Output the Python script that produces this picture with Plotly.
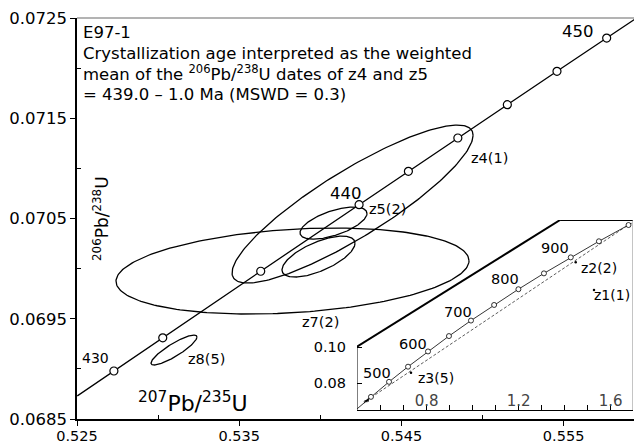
import numpy as np
import plotly.graph_objects as go

# ---------------- data ----------------
# concordia (main panel): ages with markers and their ratios
conc_age = [430, 432, 436, 440, 442, 444, 446, 448, 450]
conc_x = [0.527275, 0.530287, 0.536327, 0.542391, 0.545432, 0.548480, 0.551531, 0.554592, 0.557656]
conc_y = [0.068979, 0.069310, 0.069974, 0.070638, 0.070971, 0.071303, 0.071635, 0.071968, 0.072300]
conc_start = (0.525020, 0.068730)
conc_end = (0.559652, 0.072517)
conc_labels = ["430", "440", "450"]

# error ellipses: centre, half-extent in x and y, correlation
ell_labels = ["z4(1)", "z5(2)", "", "z7(2)", "z8(5)"]
ell_cx = [0.54199, 0.540814, 0.539889, 0.538286, 0.53098]
ell_cy = [0.070644, 0.070454, 0.07012, 0.069976, 0.069188]
ell_ax = [0.00743, 0.002065, 0.00225, 0.010882, 0.001418]
ell_ay = [0.000788, 0.00016, 0.000204, 0.000429, 0.0001496]
ell_rho = [0.87, 0.6, 0.65, 0.24, 0.87]

# inset concordia
ins_age = [450, 500, 550, 600, 650, 700, 750, 800, 850, 900, 950, 1000]
ins_x = [0.557656, 0.636280, 0.718871, 0.805631, 0.896780, 0.992510, 1.093082, 1.198730,
         1.309713, 1.426294, 1.548765, 1.677410]
ins_y = [0.072300, 0.080650, 0.089064, 0.097544, 0.106090, 0.114703, 0.123382, 0.132129,
         0.140944, 0.149828, 0.158781, 0.167804]
ins_start = (0.497487, 0.065668)
ins_end = (1.690626, 0.168710)
ins_age_labels = ["500", "600", "700", "800", "900"]

# inherited grains in inset
inh_labels = ["z1(1)", "z2(2)", "z3(5)"]
inh_x = [1.5274, 1.4479, 0.7318]
inh_y = [0.13167, 0.14706, 0.08572]

# discordia (dashed) in inset
disc_x = [0.5405, 1.6900]
disc_y = [0.0704, 0.1690]

# axis ticks
x_ticks = [0.525, 0.535, 0.545, 0.555]
y_ticks = [0.0685, 0.0695, 0.0705, 0.0715, 0.0725]
x2_ticks = [0.8, 1.2, 1.6]
y2_ticks = [0.08, 0.10]


def ellipse(cx, cy, ax, ay, rho, n=240):
    t = np.linspace(0, 2 * np.pi, n)
    x = cx + ax * np.cos(t)
    y = cy + ay * (rho * np.cos(t) + np.sqrt(1 - rho ** 2) * np.sin(t))
    return x, y


FONT = "DejaVu Sans"
fig = go.Figure()

# main concordia line + markers
fig.add_trace(go.Scatter(
    x=[conc_start[0]] + conc_x + [conc_end[0]],
    y=[conc_start[1]] + conc_y + [conc_end[1]],
    mode="lines", line=dict(color="black", width=1.3), hoverinfo="skip"))

for i in range(len(ell_cx)):
    ex, ey = ellipse(ell_cx[i], ell_cy[i], ell_ax[i], ell_ay[i], ell_rho[i])
    fig.add_trace(go.Scatter(x=ex, y=ey, mode="lines",
                             line=dict(color="black", width=1.3), hoverinfo="skip"))

fig.add_trace(go.Scatter(
    x=conc_x, y=conc_y, mode="markers",
    marker=dict(symbol="circle", size=8, color="white",
                line=dict(color="black", width=1.2)),
    hoverinfo="skip"))

# inset traces
fig.add_trace(go.Scatter(
    x=[ins_start[0]] + ins_x + [ins_end[0]],
    y=[ins_start[1]] + ins_y + [ins_end[1]],
    mode="lines", line=dict(color="black", width=0.8),
    xaxis="x2", yaxis="y2", hoverinfo="skip"))
fig.add_trace(go.Scatter(
    x=disc_x, y=disc_y, mode="lines",
    line=dict(color="#333333", width=0.8, dash="3px,2px"),
    xaxis="x2", yaxis="y2", hoverinfo="skip"))
for i in range(len(ell_cx)):
    ex, ey = ellipse(ell_cx[i], ell_cy[i], ell_ax[i], ell_ay[i], ell_rho[i])
    fig.add_trace(go.Scatter(x=ex, y=ey, mode="lines",
                             line=dict(color="black", width=0.8),
                             xaxis="x2", yaxis="y2", hoverinfo="skip"))
fig.add_trace(go.Scatter(
    x=ins_x, y=ins_y, mode="markers",
    marker=dict(symbol="circle", size=5, color="white",
                line=dict(color="black", width=0.8)),
    xaxis="x2", yaxis="y2", hoverinfo="skip"))
fig.add_trace(go.Scatter(
    x=inh_x, y=inh_y, mode="markers",
    marker=dict(symbol="circle", size=2.5, color="black"),
    xaxis="x2", yaxis="y2", hoverinfo="skip"))

# ---------------- layout ----------------
X0, X1 = 0.525, 0.559834
Y0, Y1 = 0.0685, 0.0725
XI0, XI1 = 0.497, 1.697
YI0, YI1 = 0.065, 0.1706

# page has an 8px body margin: the figure is sized so the plot area lands at
# x 77..642, y 18..419 in the window
fig.update_layout(
    width=634, height=438,
    margin=dict(l=69, r=0, t=10, b=27, autoexpand=False),
    paper_bgcolor="white", plot_bgcolor="rgba(0,0,0,0)",
    showlegend=False,
    font=dict(family=FONT, color="black"),
    xaxis=dict(range=[X0, X1], tickvals=x_ticks, ticktext=["%.3f" % v for v in x_ticks],
               ticks="outside", ticklen=5, tickwidth=1.3, tickcolor="black",
               ticklabelstandoff=-2,
               showline=True, linewidth=1.5, linecolor="black", automargin=False,
               showgrid=False, zeroline=False, tickfont=dict(size=14.5),
               minor=dict(tickmode="array", tickvals=[0.53, 0.54, 0.55], ticks="inside",
                          ticklen=4, tickwidth=1, tickcolor="black", showgrid=False)),
    yaxis=dict(range=[Y0, Y1], tickvals=y_ticks, ticktext=["%.4f" % v for v in y_ticks],
               ticks="outside", ticklen=5, tickwidth=1.3, tickcolor="black",
               showline=True, linewidth=1.5, linecolor="black", automargin=False,
               showgrid=False, zeroline=False, tickfont=dict(size=16.5),
               minor=dict(tickmode="array", tickvals=[0.069, 0.070, 0.071, 0.072], ticks="inside",
                          ticklen=4, tickwidth=1, tickcolor="black", showgrid=False)),
    xaxis2=dict(domain=[0.4956, 0.9841], anchor="y2", range=[XI0, XI1],
                tickvals=x2_ticks, ticktext=["%.1f" % v for v in x2_ticks],
                ticks="inside", ticklen=5, tickwidth=1, tickcolor="black",
                ticklabelposition="inside", tickfont=dict(size=15), ticklabelstandoff=-4,
                showline=True, linewidth=1, linecolor="black", automargin=False,
                showgrid=False, zeroline=False,
                minor=dict(tickmode="array",
                           tickvals=[0.6, 0.7, 0.9, 1.0, 1.1, 1.3, 1.4, 1.5],
                           ticks="inside", ticklen=5, tickwidth=1, tickcolor="black",
                           showgrid=False)),
    yaxis2=dict(domain=[0.02244, 0.49626], anchor="x2", range=[YI0, YI1],
                tickvals=y2_ticks, ticktext=["%.2f" % v for v in y2_ticks],
                ticks="inside", ticklen=5, tickwidth=1, tickcolor="black",
                tickfont=dict(size=14.5), ticklabelstandoff=10, automargin=False,
                showline=False, showgrid=False, zeroline=False),
)

shapes = [
    # top frame line (gray)
    dict(type="line", xref="paper", yref="paper", x0=0, x1=1, y0=1, y1=1,
         line=dict(color="#9a9a9a", width=1.5)),
    # inset background
    dict(type="path", xref="x2", yref="y2", layer="below",
         path="M %g,%g L %g,%g L %g,%g L %g,%g L %g,%g Z" % (
             XI0, YI0, XI0, 0.1002, 1.38, YI1, XI1, YI1, XI1, YI0),
         fillcolor="white", line=dict(width=0)),
    dict(type="line", xref="x2", yref="y2", x0=XI0, x1=XI0, y0=YI0, y1=0.1002,
         line=dict(color="black", width=1)),
    dict(type="line", xref="x2", yref="y2", x0=XI0, x1=1.38, y0=0.1002, y1=YI1,
         line=dict(color="black", width=2)),
    dict(type="line", xref="x2", yref="y2", x0=1.38, x1=XI1, y0=YI1, y1=YI1,
         line=dict(color="black", width=2)),
    dict(type="line", xref="x2", yref="y2", x0=XI1, x1=XI1, y0=YI1, y1=YI0,
         line=dict(color="#888888", width=1)),
]
fig.update_layout(shapes=shapes)

ann = []


def add_text(text, x, y, size, xref="x", yref="y", xanchor="center", yanchor="middle", angle=0):
    ann.append(dict(text=text, x=x, y=y, xref=xref, yref=yref, showarrow=False,
                    xanchor=xanchor, yanchor=yanchor, textangle=angle,
                    font=dict(family=FONT, size=size, color="black")))


# text block
add_text("E97-1", 0.0071, 0.9626, 16.5, "paper", "paper", "left")
add_text("Crystallization age interpreted as the weighted", 0.0071, 0.9110, 16.5, "paper", "paper", "left")
add_text("mean of the <sup>206</sup>Pb/<sup>238</sup>U dates of z4 and z5", 0.0071, 0.8640, 16.5,
         "paper", "paper", "left")
add_text("= 439.0 – 1.0 Ma (MSWD = 0.3)", 0.0071, 0.8095, 16.5, "paper", "paper", "left")

# axis titles
add_text("<sup>207</sup>Pb/<sup>235</sup>U", 0.2053, 0.0424, 22, "paper", "paper")
add_text("<sup>206</sup>Pb/<sup>238</sup>U", 0.0425, 0.4988, 17, "paper", "paper", angle=-90)

# concordia age labels
add_text(conc_labels[0], 0.52611, 0.069108, 14)
add_text(conc_labels[1], 0.541615, 0.070753, 16.5)
add_text(conc_labels[2], 0.555888, 0.072368, 16.5)

# ellipse labels
add_text(ell_labels[0], 0.55046, 0.071102, 14.5)
add_text(ell_labels[1], 0.544143, 0.070594, 14.5)
add_text(ell_labels[3], 0.540043, 0.069467, 14.5)
add_text(ell_labels[4], 0.532984, 0.069098, 14.5)

# inset labels
ins_lab_pos = [(0.584, 0.08556), (0.7405, 0.10167), (0.9361, 0.11944), (1.1405, 0.13778), (1.3579, 0.15500)]
for lab, (px, py) in zip(ins_age_labels, ins_lab_pos):
    add_text(lab, px, py, 14.5, "x2", "y2")
add_text(inh_labels[0], 1.6035, 0.12889, 14, "x2", "y2")
add_text(inh_labels[1], 1.5492, 0.14389, 14, "x2", "y2")
add_text(inh_labels[2], 0.8405, 0.08306, 14, "x2", "y2")

fig.update_layout(annotations=ann)
fig.write_html("out.html")
